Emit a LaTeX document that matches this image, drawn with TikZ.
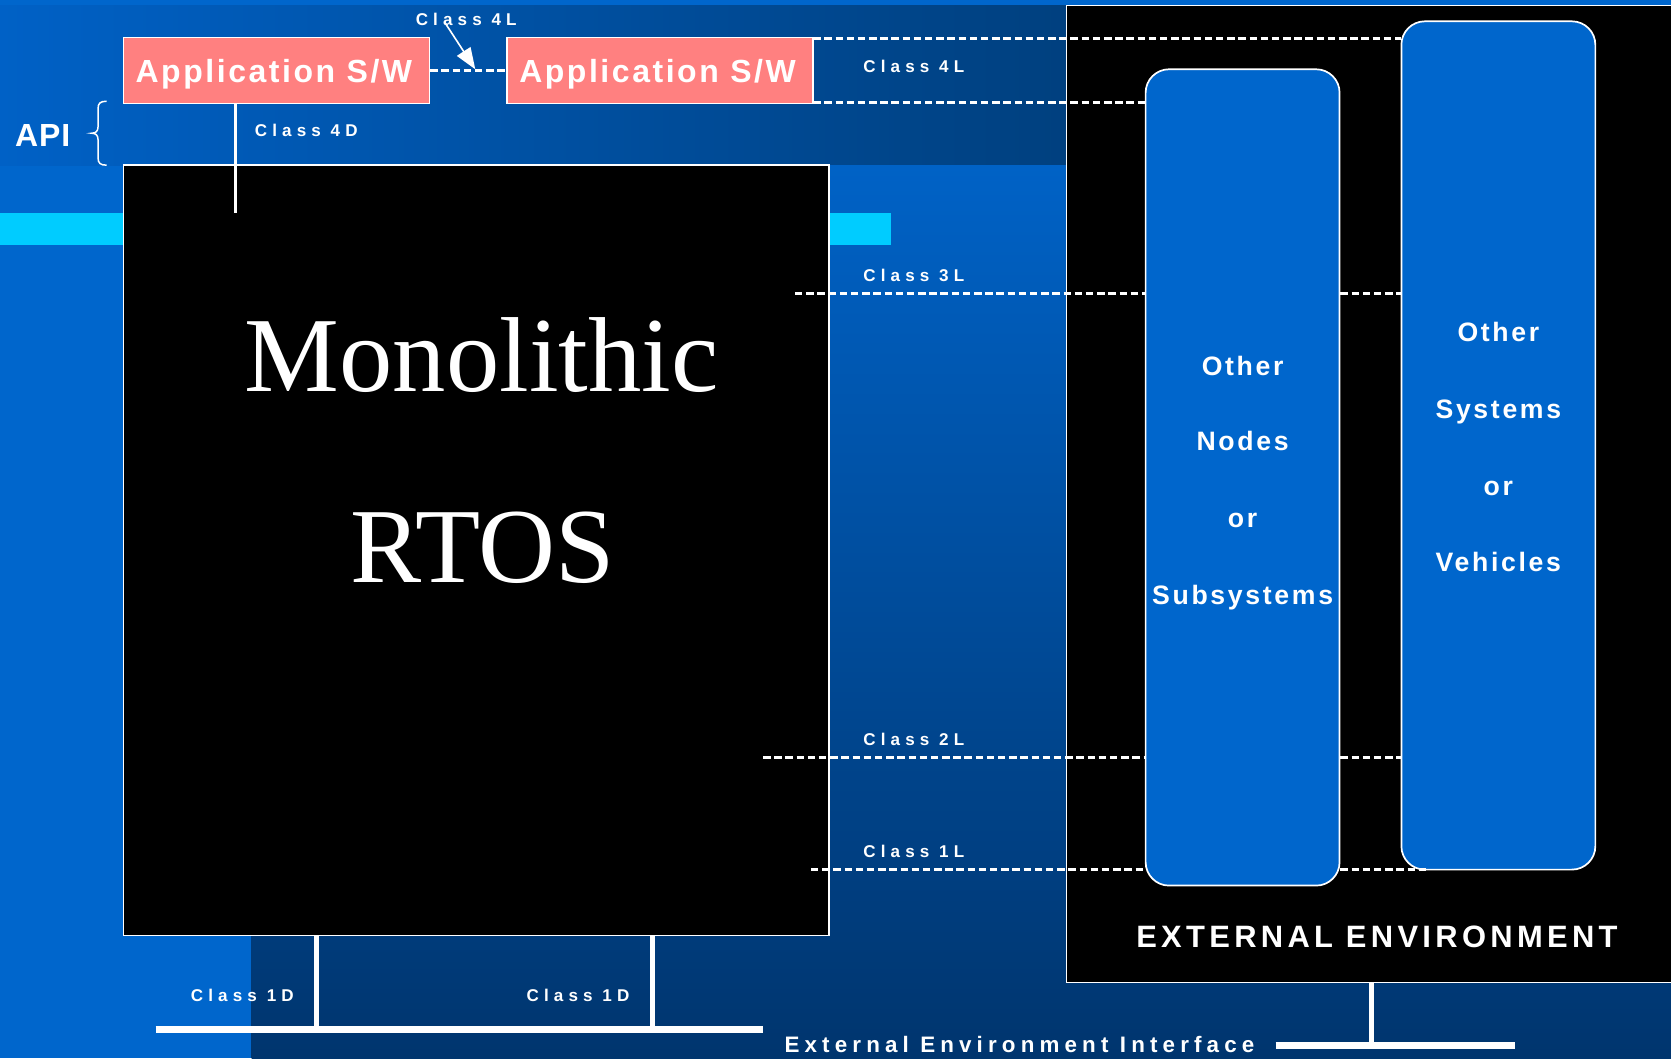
\documentclass[tikz,border=0pt]{standalone}
\usepackage{fontspec}
\setmainfont{Liberation Serif}
\setsansfont{Liberation Sans}
\newfontfamily\lblfont[LetterSpace=30]{Liberation Sans}
\newfontfamily\appfont[LetterSpace=8]{Liberation Sans}
\newfontfamily\boxfont[LetterSpace=10]{Liberation Sans}
\newfontfamily\extfont[LetterSpace=14]{Liberation Sans}
\newfontfamily\eifont[LetterSpace=23]{Liberation Sans}
\newfontfamily\apifont[LetterSpace=3]{Liberation Sans}
\newfontfamily\serifbig{Liberation Serif}
\usetikzlibrary{arrows.meta}
\definecolor{bgblue}{HTML}{0066CC}
\definecolor{bandL}{HTML}{0061C6}
\definecolor{bandR}{HTML}{00407F}
\definecolor{lowT}{HTML}{0062C6}
\definecolor{lowB}{HTML}{00356E}
\definecolor{cyanbar}{HTML}{00CCFF}
\definecolor{salmon}{HTML}{FF8080}
\definecolor{boxblue}{HTML}{0066CC}
\tikzset{
  lbl/.style={text=white, inner sep=0pt, anchor=base west, font=\lblfont\bfseries\fontsize{16}{19}\selectfont},
  apptext/.style={text=white, inner sep=0pt, anchor=base, font=\appfont\bfseries\fontsize{30}{36}\selectfont},
  boxtext/.style={text=white, inner sep=0pt, anchor=base, font=\boxfont\bfseries\fontsize{25}{30}\selectfont},
  bigtext/.style={text=white, inner sep=0pt, anchor=base, font=\serifbig\fontsize{100}{120}\selectfont},
  appbox/.style={draw=white, fill=salmon, line width=1.5pt, minimum width=287pt, minimum height=62pt, inner sep=0pt},
  blackbox/.style={draw=white, fill=black, line width=1.3pt, inner sep=0pt},
  roundbox/.style={draw=white, fill=boxblue, line width=1.6pt, rounded corners=22pt, minimum width=182pt, inner sep=0pt},
  dashln/.style={draw=white, line width=2.8pt, dash pattern=on 7pt off 3.5pt},
  solidln/.style={draw=white, line width=2pt},
  busln/.style={draw=white, line width=6.5pt},
  tapln/.style={draw=white, line width=5pt},
}
\begin{document}
\begin{tikzpicture}[x=1pt,y=-1pt]
\useasboundingbox (0,0) rectangle (1568,993);
\clip (0,0) rectangle (1568,993);
% background
\fill[bgblue] (0,0) rectangle (1568,993);
\shade[left color=bandL, right color=bandR] (0,5) rectangle (1001,155);
\shade[top color=lowT, bottom color=lowB] (236,155) rectangle (1568,993);
\fill[cyanbar] (0,200) rectangle (836,230);

% main boxes
\node[blackbox, minimum width=574pt, minimum height=917pt] (ext) at (1288,463.5) {};
\node[blackbox, minimum width=662pt, minimum height=723pt] (rtos) at (447,516.5) {};
\node[appbox] (app1) at (259.5,66) {};
\node[appbox] (app2) at (619.5,66) {};
\node[roundbox, minimum height=766pt] (nodes) at (1166,448) {};
\node[roundbox, minimum height=796pt] (systems) at (1406,418) {};

% texts in boxes
\node[apptext] (app1t) at (257,77.6) {Application S/W};
\node[apptext] (app2t) at (617,77.6) {Application S/W};
\node[bigtext] (mono) at (452,367) {Monolithic};
\node[bigtext] (rtost) at (453,547) {RTOS};

\node[boxtext] (n1) at (1166,352) {Other};
\node[boxtext] (n2) at (1166,422.3) {Nodes};
\node[boxtext] (n3) at (1166,494.8) {or};
\node[boxtext] (n4) at (1166,567) {Subsystems};

\node[boxtext] (s1) at (1406,320.6) {Other};
\node[boxtext] (s2) at (1406,392.5) {Systems};
\node[boxtext] (s3) at (1406,465.4) {or};
\node[boxtext] (s4) at (1406,536.4) {Vehicles};

\node[text=white, inner sep=0pt, anchor=base west, font=\extfont\bfseries\fontsize{29}{34}\selectfont] (extt) at (1066,889) {EXTERNAL ENVIRONMENT};
\node[text=white, inner sep=0pt, anchor=base west, font=\eifont\bfseries\fontsize{21}{25}\selectfont] (eit) at (736,988) {External Environment Interface};
\node[text=white, inner sep=0pt, anchor=base west, font=\apifont\bfseries\fontsize{30}{36}\selectfont] (api) at (14,137.6) {API};

% labels
\node[lbl] (l4top) at (390,23.5) {Class 4L};
\node[lbl] (l4) at (810,68) {Class 4L};
\node[lbl] (l4d) at (239,128) {Class 4D};
\node[lbl] (l3) at (810,264) {Class 3L};
\node[lbl] (l2) at (810,700) {Class 2L};
\node[lbl] (l1) at (810,805) {Class 1L};
\node[lbl] (l1da) at (179,940) {Class 1D};
\node[lbl] (l1db) at (494,940) {Class 1D};

% API brace
\coordinate (brT) at (100,95);
\coordinate (brB) at (100,155);
\coordinate (brP) at (86,125);
\draw[white, line width=1.4pt] (brT) .. controls (94,95) and (92,97) .. (92,102) -- (92,119)
  .. controls (92,123) and (90,125) .. (brP) .. controls (90,125) and (92,127) .. (92,131)
  -- (92,148) .. controls (92,153) and (94,155) .. (brB);

% class 4 connections
\draw[dashln] (app1.east) -- (app2.west);
\coordinate (arrS) at (418,22);
\coordinate (arrT) at (446,65);
\draw[white, line width=1.5pt, -{Triangle[length=20pt,width=15pt]}] (arrS) -- (arrT);
\coordinate (c4a) at (763,36);
\coordinate (c4b) at (763,96);
\draw[dashln] (c4a) -- (c4a -| systems.west);
\draw[dashln] (c4b) -- (c4b -| nodes.west);
\coordinate (d4) at (221,200);
\draw[solidln] (d4 |- app1.south) -- (d4);

% class 3L / 2L / 1L
\coordinate (c3) at (746,275);
\draw[dashln] (c3) -- (c3 -| nodes.west);
\draw[dashln] (c3 -| nodes.east) -- (c3 -| systems.west);
\coordinate (c2) at (716,711);
\draw[dashln] (c2) -- (c2 -| nodes.west);
\draw[dashln] (c2 -| nodes.east) -- (c2 -| systems.west);
\coordinate (c1) at (761,816);
\coordinate (c1r) at (1341,816);
\draw[dashln] (c1) -- (c1 -| nodes.west);
\draw[dashln] (c1 -| nodes.east) -- (c1r);

% class 1D bus
\coordinate (busL) at (146,966);
\coordinate (busR) at (716,966);
\coordinate (tapA) at (297,966);
\coordinate (tapB) at (612,966);
\draw[tapln] (tapA |- rtos.south) -- (tapA);
\draw[tapln] (tapB |- rtos.south) -- (tapB);
\draw[busln] (busL) -- (busR);

% external environment interface
\coordinate (eiL) at (1197,981);
\coordinate (eiR) at (1422,981);
\coordinate (eiT) at (1287,981);
\draw[tapln] (eiT |- ext.south) -- (eiT);
\draw[busln] (eiL) -- (eiR);
\end{tikzpicture}
\end{document}
